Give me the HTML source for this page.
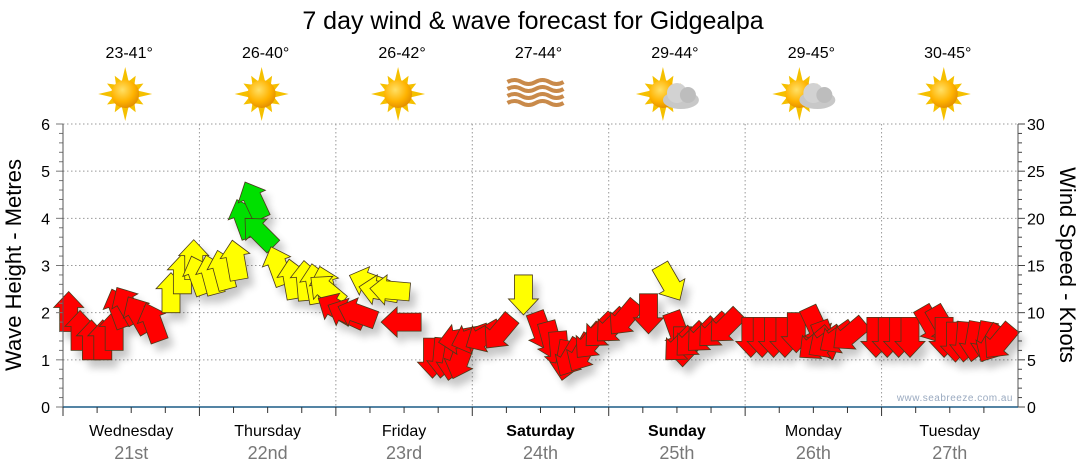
<!DOCTYPE html>
<html><head><meta charset="utf-8"><style>
body{margin:0;background:#fff;width:1080px;height:475px;overflow:hidden;font-family:"Liberation Sans","DejaVu Sans",sans-serif}
svg{display:block}
</style></head><body>
<svg id="chart" width="1080" height="475" viewBox="0 0 1080 475" xmlns="http://www.w3.org/2000/svg">
<defs>
<radialGradient id="sunG" cx="0.4" cy="0.35" r="0.7"><stop offset="0" stop-color="#ffe066"/><stop offset="0.6" stop-color="#ffb300"/><stop offset="1" stop-color="#e08a00"/></radialGradient>
<filter id="sh" x="-50%" y="-50%" width="200%" height="200%"><feGaussianBlur stdDeviation="4"/></filter>
</defs>
<text x="533" y="29" font-size="25" text-anchor="middle" fill="#000">7 day wind &amp; wave forecast for Gidgealpa</text>
<g id="grid"></g>
<g id="icons"></g>
<g id="shadows" filter="url(#sh)" opacity="0.22"></g>
<g id="arrows"></g>
<g id="axes"></g>
<text x="1013" y="401" font-size="10" fill="#9aaac0" text-anchor="end" letter-spacing="0.5">www.seabreeze.com.au</text>
<text transform="translate(21,265) rotate(-90)" font-size="22" text-anchor="middle">Wave Height - Metres</text>
<text transform="translate(1060,265) rotate(90)" font-size="22" text-anchor="middle">Wind Speed - Knots</text>
</svg>
<script>
const days=["Wednesday","Thursday","Friday","Saturday","Sunday","Monday","Tuesday"];
const dates=["21st","22nd","23rd","24th","25th","26th","27th"];
const bold=[false,false,false,true,true,false,false];
const temps=["23-41°","26-40°","26-42°","27-44°","29-44°","29-45°","30-45°"];
const icons=["sun","sun","sun","haze","cloud","cloud","sun"];
const waveTicks=[0,1,2,3,4,5,6];
const windTicks=[0,5,10,15,20,25,30];
// wind speed (knots) every 2 hours
const knots=[8,6,5,5,6,8.5,9,8,7,10,12,13.5,
 12,12,12.5,13.5,18,20,17,13,11.5,11.3,11,10.8,
 11,9.4,9,9.2,12.5,12,12.2,9,7.3,7.3,7,7,
 7.6,8,8.5,9.5,14,10,9,8,7,7,7.5,8.5,
 9.5,10,11,12,15,10,8.5,8,8.5,9,9.5,10,
 9.5,9.5,9.5,9.5,10,10.5,9,8,8,8.5,9,9.5,
 9.5,9.5,9.5,10.5,10.5,9.5,9,9,9,9,8.5,8.5];
// wind gusts (knots) every 2 hours - sets arrow colour
const gusts=[12,12,12,12,12,12,12,12,12,18,18,18,
 18,18,18,18,26,26,26,18,18,18,18,18,
 18,12,12,12,18,18,18,12,12,12,12,12,
 12,12,12,12,18,12,12,12,12,12,12,12,
 12,12,12,12,18,12,12,12,12,12,12,12,
 12,12,12,12,12,12,12,12,12,12,12,12,
 12,12,12,12,12,12,12,12,12,12,12,12];
// arrow direction (degrees, 0 = pointing up, clockwise)
const dirs=[0,0,0,0,0,-20,-30,-30,-20,0,0,0,
 -20,-15,-15,-10,-20,-25,-45,-20,-10,-5,-10,-15,
 -50,-60,-65,-70,-70,-80,-85,-90,180,185,190,200,
 -100,-110,-120,-140,180,160,165,175,-170,-150,-150,-140,
 -135,-135,-140,180,150,160,180,-135,-135,-135,-135,-135,
 180,180,180,180,180,155,160,-130,-125,-125,-130,180,
 180,180,180,150,150,180,180,185,190,190,-150,-140];
const X0=63,X1=1018,Y0=407,Y1=124,DAY=(X1-X0)/7;
const NS="http://www.w3.org/2000/svg";
function xT(h){return X0+h*DAY/24;}
function yW(m){return Y0-m*(Y0-Y1)/6;}
function yK(k){return Y0-k*(Y0-Y1)/30;}
function mk(tag,attrs,parent,txt){const e=document.createElementNS(NS,tag);for(const k in attrs)e.setAttribute(k,attrs[k]);if(txt!==undefined)e.textContent=txt;parent.appendChild(e);return e;}
const grid=document.getElementById('grid'),axes=document.getElementById('axes'),ic=document.getElementById('icons');
waveTicks.forEach(function(m){
 if(m>0){const g=mk('line',{x1:X0,x2:X1,y1:yW(m),y2:yW(m),stroke:'#999','stroke-dasharray':'1.5,2.5'},grid);
 
 }
 const t=mk('text',{x:50,y:yW(m)+6,'font-size':16,'text-anchor':'end'},axes,m);
 
 
});
windTicks.forEach(function(k){
 const t=mk('text',{x:1027,y:yK(k)+6,'font-size':16},axes,k);
 
 
});
for(let i=0;i<=30;i++){mk('line',{x1:X1,x2:X1+(i%5==0?7:4),y1:yK(i),y2:yK(i),stroke:'#444'},axes);}
for(let i=0;i<=30;i++){mk('line',{x1:X0-(i%5==0?7:4),x2:X0,y1:yW(i/5),y2:yW(i/5),stroke:'#777'},axes);}
mk('line',{x1:X0,x2:X0,y1:Y1,y2:Y0,stroke:'#555'},axes);
mk('line',{x1:X1,x2:X1,y1:Y1,y2:Y0,stroke:'#555'},axes);
mk('line',{x1:X0,x2:X1,y1:Y0,y2:Y0,stroke:'#1b5b86','stroke-width':1.5},axes);
for(let d=0;d<7;d++){
 if(d>0){const g=mk('line',{x1:xT(d*24),x2:xT(d*24),y1:Y1,y2:Y0,stroke:'#999','stroke-dasharray':'1.5,2.5'},grid);
 
 }
 for(let h=0;h<4;h++){mk('line',{x1:xT(d*24+h*6),x2:xT(d*24+h*6),y1:Y0,y2:Y0+(h==0?9:6),stroke:'#333'},axes);}
 const cx=xT(d*24+12);
 const dl=mk('text',{x:cx,y:436,'font-size':16,'text-anchor':'middle','font-weight':bold[d]?'bold':'normal'},axes,days[d]);
 
 
 const dt=mk('text',{x:cx,y:459,'font-size':18,'text-anchor':'middle',fill:'#777'},axes,dates[d]);
 
 
 const tt=mk('text',{x:cx-2,y:58,'font-size':16,'text-anchor':'middle'},ic,temps[d]);
 
 
 const g=mk('g',{transform:'translate('+(cx-6)+',94)'},ic);
 
 
 if(icons[d]=='haze'){
  for(let j=0;j<4;j++){mk('path',{d:'M-27,'+(-12+j*7)+' q7,-4 14,0 t14,0 t14,0 t14,0',fill:'none',stroke:'#c98a4a','stroke-width':4},g);}
 }else{
  const sx=icons[d]=='cloud'?-8:0;
  let pts=[];for(let r=0;r<24;r++){const a=r*Math.PI/12,R=(r%2==0)?(r%6==0?27:21):13;pts.push((sx+R*Math.sin(a)).toFixed(1)+','+(-R*Math.cos(a)).toFixed(1));}
  mk('polygon',{points:pts.join(' '),fill:'#f5c000'},g);
  mk('circle',{cx:sx,cy:0,r:14,fill:'url(#sunG)'},g);
  if(icons[d]=='cloud'){
   mk('ellipse',{cx:10,cy:6,rx:18,ry:9,fill:'#c8c8c8'},g);
   mk('circle',{cx:6,cy:-1,r:10,fill:'#d2d2d2'},g);
   mk('circle',{cx:17,cy:1,r:8,fill:'#bdbdbd'},g);
  }
 }
}
const L=40,sw=9,hw=15,hl=16;
const shape=[[-sw,0],[-sw,-(L-hl)],[-hw,-(L-hl)],[0,-L],[hw,-(L-hl)],[sw,-(L-hl)],[sw,0]].map(p=>p.join(',')).join(' ');
const arrowsG=document.getElementById('arrows'),shG=document.getElementById('shadows');
knots.forEach(function(k,i){
 const x=xT(i*2+1),y=yK(k),d=dirs[i],gu=gusts[i];
 const col=gu>=25?'#00e000':(gu>=15?'#ffff00':'#ff0000');
 const s=mk('polygon',{points:shape,fill:'#000',transform:'translate('+(x+6)+','+(y+8)+') rotate('+d+')'},shG);
 
 
 const a=mk('polygon',{points:shape,fill:col,stroke:'#4a3a1a','stroke-width':0.8,transform:'translate('+x+','+y+') rotate('+d+')'},arrowsG);
 
 
});
</script>
</body></html>
